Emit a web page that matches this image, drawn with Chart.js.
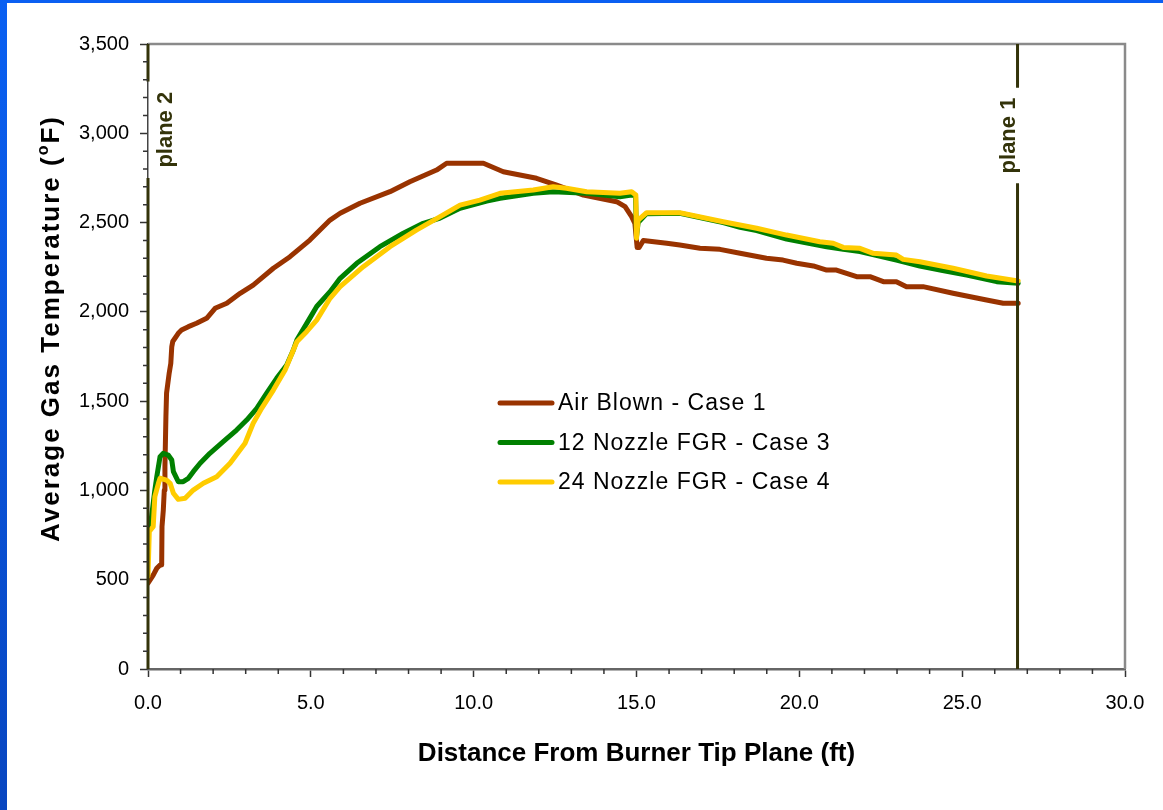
<!DOCTYPE html>
<html>
<head>
<meta charset="utf-8">
<title>Average Gas Temperature</title>
<script src="https://cdn.jsdelivr.net/npm/chart.js@4.4.1/dist/chart.umd.min.js"></script>
<style>
  html, body { margin: 0; padding: 0; background: #fff; }
  #wrap { position: relative; width: 1163px; height: 810px; overflow: hidden; }
  #temp-chart { position: absolute; left: 0; top: 0; display: block; }
  #topbar { position: absolute; left: 0; top: 0; width: 1163px; height: 3px; background: #0a5ff2; }
  #leftbar { position: absolute; left: 0; top: 0; width: 7px; height: 810px; background: linear-gradient(#0a60f2, #0846c0); }
</style>
</head>
<body>
<div id="wrap">
  <canvas id="temp-chart" width="1163" height="810"></canvas>
  <div id="topbar"></div>
  <div id="leftbar"></div>
</div>
<script>
// series: distance (ft) and temperature (F)
const seriesNames = ['Air Blown - Case 1', '12 Nozzle FGR - Case 3', '24 Nozzle FGR - Case 4'];

const airDist = [0, 0.16, 0.27, 0.37, 0.42, 0.43, 0.47, 0.50, 0.52, 0.55, 0.57, 0.65, 0.70, 0.73, 0.76,
  0.93, 1.03, 1.24, 1.49, 1.80, 2.06, 2.42, 2.83, 3.23, 3.85, 4.36, 4.97, 5.59, 5.90, 6.51, 7.43, 8.04,
  8.86, 9.17, 10.30, 10.91, 11.93, 12.55, 13.37, 14.39, 14.65, 14.85, 14.95, 15.02, 15.08, 15.21, 15.93,
  16.33, 16.95, 17.56, 18.18, 18.99, 19.50, 19.92, 20.43, 20.84, 21.14, 21.76, 22.17, 22.58, 22.98, 23.29,
  23.80, 24.72, 25.75, 26.26, 26.72];
const airTemp = [480, 526, 564, 582, 582, 797, 890, 1002, 1133, 1413, 1545, 1656, 1712, 1805, 1834,
  1880, 1898, 1917, 1936, 1964, 2020, 2048, 2104, 2150, 2244, 2309, 2402, 2514, 2552, 2608, 2673, 2729,
  2794, 2832, 2832, 2785, 2748, 2710, 2654, 2617, 2589, 2533, 2496, 2360, 2360, 2400, 2384,
  2374, 2356, 2350, 2328, 2300, 2290, 2272, 2257, 2234, 2234, 2197, 2197, 2169, 2169, 2141,
  2141, 2104, 2066, 2048, 2048];

const fgr12Dist = [0, 0.11, 0.21, 0.27, 0.37, 0.47, 0.62, 0.73, 0.78, 0.93, 1.08, 1.24, 1.39, 1.60, 1.90,
  2.31, 2.72, 3.03, 3.34, 3.64, 3.95, 4.26, 4.46, 4.57, 4.97, 5.18, 5.59, 5.90, 6.41, 7.12, 7.84, 8.45,
  8.97, 9.58, 10.40, 10.81, 11.83, 12.44, 13.47, 14.49, 14.85, 14.97, 15.00, 15.05, 15.31, 16.33, 17.66,
  18.18, 18.69, 19.61, 20.84, 21.35, 21.86, 22.98, 23.70, 24.40, 25.14, 26.06, 26.72];
const fgr12Temp = [770, 853, 1002, 1077, 1189, 1208, 1198, 1170, 1105, 1049, 1049, 1068, 1105, 1152, 1208,
  1273, 1338, 1394, 1460, 1544, 1628, 1702, 1785, 1842, 1965, 2030, 2113, 2188, 2272, 2365, 2440, 2496,
  2525, 2580, 2620, 2636, 2664, 2673, 2664, 2645, 2654, 2650, 2420, 2500, 2550, 2552, 2500,
  2473, 2455, 2408, 2365, 2350, 2338, 2290, 2257, 2232, 2206, 2169, 2160];

const fgr24Dist = [0, 0.04, 0.16, 0.21, 0.32, 0.37, 0.57, 0.68, 0.78, 0.93, 1.14, 1.39, 1.70, 2.11, 2.52,
  2.98, 3.23, 3.49, 3.85, 4.21, 4.57, 4.87, 5.18, 5.59, 5.90, 6.61, 7.43, 8.24, 8.97, 9.58, 10.19, 10.81,
  11.83, 12.44, 12.85, 13.47, 14.49, 14.85, 14.98, 15.00, 15.05, 15.31, 16.33, 17.66, 18.69, 19.61, 20.63,
  21.04, 21.35, 21.86, 22.27, 22.98, 23.19, 23.70, 24.72, 25.75, 26.72];
const fgr24Temp = [520, 770, 797, 965, 1040, 1068, 1058, 1040, 984, 950, 956, 1002, 1040, 1077, 1152,
  1264, 1376, 1460, 1562, 1674, 1833, 1889, 1954, 2076, 2141, 2253, 2365, 2458, 2533, 2598, 2626, 2664,
  2682, 2701, 2692, 2673, 2664, 2673, 2654, 2412, 2514, 2555, 2555, 2505, 2468, 2430, 2393,
  2384, 2361, 2356, 2328, 2318, 2294, 2281, 2244, 2201, 2173];

// measurement planes
const planeDist = [0, 26.7];
const planeNames = ['plane 2', 'plane 1'];

const FONT = "'Liberation Sans', Arial, Helvetica, sans-serif";
Chart.defaults.font.family = FONT;
Chart.defaults.color = '#000';

function toPoints(xs, ys) {
  return xs.map((d, i) => ({ x: d, y: ys[i] }));
}

// thin minor ticks every 1 ft and every 100 F
const minorTicks = {
  id: 'minorTicks',
  afterDraw(chart) {
    const { ctx, chartArea, scales } = chart;
    ctx.save();
    ctx.strokeStyle = '#333';
    ctx.lineWidth = 1.5;
    ctx.beginPath();
    for (let v = 1; v < 30; v++) {
      if (v % 5 === 0) continue;
      const px = scales.x.getPixelForValue(v);
      ctx.moveTo(px, chartArea.bottom);
      ctx.lineTo(px, chartArea.bottom + 5);
    }
    for (let v = 100; v < 3500; v += 100) {
      if (v % 500 === 0) continue;
      const py = scales.y.getPixelForValue(v);
      ctx.moveTo(chartArea.left - 5, py);
      ctx.lineTo(chartArea.left, py);
    }
    ctx.stroke();
    ctx.restore();
  }
};

// grey frame on top and right
const frame = {
  id: 'frame',
  beforeDatasetsDraw(chart) {
    const { ctx, chartArea: a } = chart;
    ctx.save();
    ctx.strokeStyle = '#8a8a8a';
    ctx.lineWidth = 2.5;
    ctx.beginPath();
    ctx.moveTo(a.left, a.top);
    ctx.lineTo(a.right, a.top);
    ctx.lineTo(a.right, a.bottom);
    ctx.stroke();
    ctx.restore();
  }
};

// vertical plane markers with rotated labels
const planes = {
  id: 'planes',
  afterDatasetsDraw(chart, args, opts) {
    const { ctx, chartArea: a, scales } = chart;
    ctx.save();
    planeDist.forEach((d, i) => {
      const px = scales.x.getPixelForValue(d);
      const gapTop = scales.y.getPixelForValue(opts.gaps[i][0]);
      const gapBot = scales.y.getPixelForValue(opts.gaps[i][1]);
      ctx.strokeStyle = '#33330a';
      ctx.lineWidth = 3;
      ctx.beginPath();
      ctx.moveTo(px, a.top);
      ctx.lineTo(px, gapTop);
      ctx.moveTo(px, gapBot);
      ctx.lineTo(px, a.bottom);
      ctx.stroke();
      ctx.save();
      ctx.translate(px + opts.labelShift[i], (gapTop + gapBot) / 2);
      ctx.rotate(-Math.PI / 2);
      ctx.fillStyle = '#33330a';
      ctx.font = 'bold 22px ' + FONT;
      ctx.textAlign = 'center';
      ctx.textBaseline = 'middle';
      ctx.fillText(planeNames[i], 0, 0);
      ctx.restore();
    });
    ctx.restore();
  }
};

// y axis title with a superscript o
const yTitle = {
  id: 'yTitle',
  afterDraw(chart, args, opts) {
    const { ctx } = chart;
    ctx.save();
    ctx.translate(opts.x, opts.y);
    ctx.rotate(-Math.PI / 2);
    ctx.fillStyle = '#000';
    ctx.textAlign = 'left';
    ctx.textBaseline = 'middle';
    ctx.letterSpacing = '2px';
    ctx.font = 'bold 26px ' + FONT;
    const first = 'Average Gas Temperature (';
    ctx.fillText(first, 0, 0);
    let pos = ctx.measureText(first).width;
    ctx.font = 'bold 16px ' + FONT;
    ctx.fillText('o', pos, -8);
    pos += ctx.measureText('o').width;
    ctx.font = 'bold 26px ' + FONT;
    ctx.fillText('F)', pos, 0);
    ctx.restore();
  }
};

// legend drawn inside the plot area
const innerLegend = {
  id: 'innerLegend',
  afterDraw(chart, args, opts) {
    const { ctx } = chart;
    ctx.save();
    ctx.font = '23px ' + FONT;
    ctx.letterSpacing = '1px';
    ctx.textBaseline = 'middle';
    chart.data.datasets.forEach((ds, i) => {
      const y = opts.y + i * opts.rowGap;
      ctx.strokeStyle = ds.borderColor;
      ctx.lineWidth = 5;
      ctx.lineCap = 'round';
      ctx.beginPath();
      ctx.moveTo(opts.x, y);
      ctx.lineTo(opts.x + 52, y);
      ctx.stroke();
      ctx.fillStyle = '#000';
      ctx.fillText(ds.label, opts.x + 58, y + 1);
    });
    ctx.restore();
  }
};

const lineStyle = { borderWidth: 5, pointRadius: 0, tension: 0, borderJoinStyle: 'round', borderCapStyle: 'round', fill: false };

const config = {
  type: 'line',
  data: {
    datasets: [
      { label: seriesNames[0], data: toPoints(airDist, airTemp), borderColor: '#993300', order: 2, ...lineStyle },
      { label: seriesNames[1], data: toPoints(fgr12Dist, fgr12Temp), borderColor: '#008000', order: 1, ...lineStyle },
      { label: seriesNames[2], data: toPoints(fgr24Dist, fgr24Temp), borderColor: '#ffcc00', order: 0, ...lineStyle }
    ]
  },
  options: {
    responsive: false,
    animation: false,
    devicePixelRatio: 1,
    layout: { padding: { top: 44, right: 38, left: 0, bottom: 0 } },
    plugins: {
      legend: { display: false },
      tooltip: { enabled: false },
      planes: { gaps: [[3290, 2750], [3255, 2720]], labelShift: [18, -9] },
      innerLegend: { x: 500, y: 403, rowGap: 39.5 },
      yTitle: { x: 52, y: 542 }
    },
    scales: {
      x: {
        type: 'linear',
        min: 0,
        max: 30,
        ticks: { stepSize: 5, callback: v => v.toFixed(1), font: { size: 20 }, color: '#000', padding: 14, maxRotation: 0 },
        grid: { drawOnChartArea: false, tickLength: 8, tickColor: '#333', tickWidth: 1.5 },
        border: { color: '#666', width: 2.5 },
        title: {
          display: true,
          text: 'Distance From Burner Tip Plane (ft)',
          font: { size: 26, weight: 'bold' },
          color: '#000',
          padding: { top: 0, bottom: 41 }
        },
        afterFit: s => { s.height = 141; }
      },
      y: {
        min: 0,
        max: 3500,
        ticks: { stepSize: 500, font: { size: 20 }, color: '#000', padding: 11 },
        grid: { drawOnChartArea: false, tickLength: 8, tickColor: '#333', tickWidth: 1.5 },
        border: { color: '#444', width: 1.5 },
        title: { display: false },
        afterFit: s => { s.width = 148; }
      }
    }
  },
  plugins: [frame, minorTicks, planes, yTitle, innerLegend]
};

const ctx = document.getElementById('temp-chart').getContext('2d');
window.tempChart = new Chart(ctx, config);
</script>
</body>
</html>
